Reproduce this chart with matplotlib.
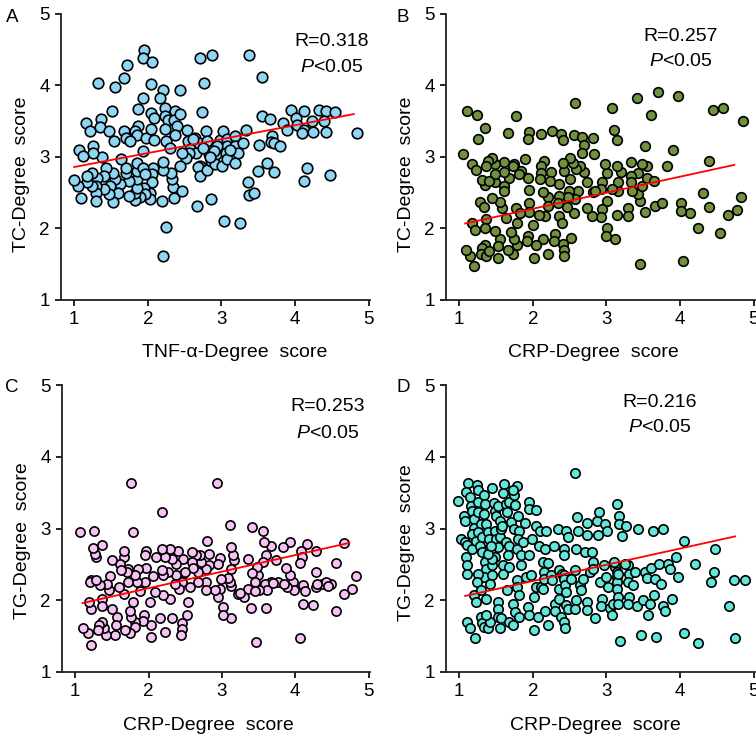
import matplotlib
matplotlib.use('Agg')
import matplotlib.pyplot as plt

plt.rcParams['font.family'] = ['Liberation Sans', 'DejaVu Sans']
plt.rcParams['mathtext.fontset'] = 'custom'
plt.rcParams['mathtext.rm'] = 'Liberation Sans'
plt.rcParams['mathtext.it'] = 'Liberation Sans:italic'

# ---- panel A: TNF-a vs TC ----
a_x = [1.95,1.93,2.06,1.72,1.68,1.32,1.55,2.04,2.20,2.44,
       2.17,1.94,2.71,2.87,2.77,3.38,3.55,1.86,1.51,1.36,
       1.16,1.22,1.35,1.47,1.67,1.71,1.54,1.86,1.83,1.85,
       1.76,1.97,2.04,2.08,2.04,2.09,2.23,2.23,2.27,2.23,
       2.25,2.30,2.37,2.35,2.40,2.44,2.37,2.53,2.55,2.73,
       2.79,2.64,2.69,2.58,2.66,2.56,2.52,2.44,2.80,2.83,
       2.93,2.98,3.02,3.07,3.07,2.94,3.06,3.19,3.19,3.29,
       3.33,3.23,2.71,2.68,2.71,2.80,2.86,2.91,3.01,3.07,
       3.18,3.36,3.37,3.45,3.50,3.62,3.71,3.51,3.55,3.66,
       3.69,3.67,3.72,3.79,3.84,3.89,3.94,4.02,4.03,4.12,
       4.12,4.09,4.23,4.25,4.32,4.42,4.40,4.42,4.55,4.84,
       4.16,4.12,4.47,2.86,2.67,3.04,3.25,2.19,2.25,2.21,
       2.35,2.34,2.46,2.33,2.31,2.20,2.20,2.07,2.06,2.06,
       2.03,2.03,1.95,1.96,1.90,1.83,1.83,1.85,1.85,1.85,
       1.85,1.93,1.96,1.93,1.74,1.74,1.71,1.63,1.70,1.62,
       1.60,1.56,1.53,1.53,1.49,1.47,1.43,1.41,1.41,1.38,
       1.31,1.30,1.30,1.29,1.26,1.25,1.24,1.24,1.18,1.18,
       1.09,1.06,1.12,1.05,0.99,2.62,2.75,2.90,3.12,2.85,
       2.47]
a_y = [4.49,4.38,4.33,4.29,4.11,4.03,3.98,4.02,3.94,3.94,
       3.82,3.83,4.39,4.43,4.04,4.42,4.12,3.67,3.64,3.53,
       3.47,3.37,3.42,3.37,3.36,3.27,3.22,3.43,3.36,3.31,
       3.22,3.27,3.39,3.24,3.62,3.54,3.68,3.57,3.52,3.39,
       3.23,3.13,3.64,3.52,3.43,3.60,3.31,3.38,3.22,3.63,
       3.37,3.27,3.19,3.11,3.06,3.06,2.98,2.88,3.22,3.04,
       3.04,3.24,3.36,3.25,3.15,3.15,3.06,3.30,3.15,3.20,
       3.38,3.05,2.88,2.86,2.73,2.82,2.94,2.90,2.88,2.97,
       2.91,2.65,2.47,2.49,2.81,2.91,2.79,3.17,3.57,3.53,
       3.30,3.21,3.20,3.15,3.47,3.38,3.66,3.54,3.45,3.65,
       3.38,3.34,3.51,3.35,3.66,3.65,3.50,3.35,3.63,3.33,
       2.84,2.67,2.75,2.41,2.32,2.11,2.08,2.38,2.02,1.62,
       2.42,2.58,2.52,2.69,2.77,2.82,2.93,2.85,2.76,2.65,
       2.50,2.41,2.56,2.48,2.44,2.40,2.50,2.57,2.69,2.81,
       2.92,2.85,2.76,3.08,2.67,2.46,2.78,2.97,2.85,2.62,
       2.50,2.69,2.78,2.37,2.60,2.48,2.85,2.74,2.55,3.00,
       2.71,2.60,2.49,2.39,3.15,3.05,2.78,2.59,2.65,2.74,
       2.42,3.10,3.01,2.60,2.68,3.25,3.12,3.08,3.10,3.00,
       3.05]
a_fit_x = [1.00, 4.80]
a_fit_y = [2.86, 3.60]

# ---- panel B: CRP vs TC ----
b_x = [1.05,1.11,1.24,1.26,1.35,1.77,1.66,1.95,1.94,2.11,
       2.26,2.38,2.41,2.57,2.56,2.67,2.70,2.67,2.82,2.83,
       3.08,3.10,3.14,3.41,3.70,3.98,3.60,3.52,3.91,3.83,
       3.55,4.40,4.45,4.58,4.86,4.83,4.77,4.65,4.55,4.39,
       4.31,4.24,4.13,4.02,4.02,4.04,3.46,3.66,3.76,3.52,
       3.46,3.43,3.48,3.55,3.65,3.43,3.48,3.34,3.33,3.34,
       3.35,3.30,3.29,3.16,3.16,3.20,3.14,3.15,3.12,3.01,
       3.00,3.01,3.07,3.01,2.98,2.94,2.93,2.94,2.93,2.80,
       2.74,2.82,2.84,2.73,2.70,2.64,2.59,2.54,2.51,2.62,
       2.57,2.56,2.52,2.51,2.49,2.48,2.46,2.42,2.41,2.36,
       2.36,2.34,2.36,2.39,2.41,2.43,2.43,2.30,2.29,2.25,
       2.23,2.20,2.21,2.16,2.14,2.15,2.11,2.11,2.10,2.08,
       2.14,2.21,2.05,2.02,2.00,1.95,1.95,1.93,1.95,1.94,
       1.92,1.89,1.84,1.81,1.75,1.73,1.77,1.82,1.79,1.79,
       1.75,1.70,1.73,1.66,1.67,1.63,1.61,1.61,1.61,1.61,
       1.58,1.55,1.52,1.55,1.52,1.48,1.49,1.49,1.49,1.45,
       1.44,1.39,1.37,1.35,1.31,1.28,1.33,1.37,1.35,1.35,
       1.31,1.29,1.37,1.40,1.20,1.15,1.09,1.17,1.21,1.18,
       1.23,1.41]
b_y = [3.04,3.64,3.59,3.25,3.41,3.58,3.34,3.35,3.25,3.32,
       3.37,3.32,3.24,3.76,3.31,3.28,3.17,3.05,3.27,3.04,
       3.69,3.38,3.24,3.83,3.91,3.86,3.59,3.15,3.10,2.88,
       2.88,2.94,3.66,3.68,3.51,2.44,2.26,2.19,1.94,2.30,
       2.49,2.01,2.21,2.35,2.24,1.55,1.51,2.32,2.35,2.23,
       2.38,2.48,2.60,2.71,2.67,2.78,2.90,2.74,2.93,2.65,
       2.53,2.29,2.18,2.52,2.65,2.79,2.88,2.19,1.85,2.00,
       1.90,2.39,2.55,2.78,2.90,2.65,2.55,2.27,2.16,2.18,
       2.29,2.51,2.53,2.65,2.79,2.88,2.83,2.92,2.98,2.52,
       2.41,2.21,1.87,2.69,2.53,2.44,2.30,2.81,2.92,2.62,
       2.46,2.35,2.18,2.08,1.78,1.70,1.61,1.93,1.82,2.79,
       2.67,2.44,2.32,2.18,2.51,2.95,2.88,2.78,2.69,2.19,
       1.85,1.65,1.77,1.59,2.05,2.35,2.54,2.70,2.23,1.90,
       1.82,2.97,2.81,2.76,2.90,2.88,2.28,2.21,2.08,1.77,
       1.85,1.95,1.65,1.70,2.71,2.14,2.93,2.79,2.60,2.52,
       2.29,2.37,1.59,1.86,1.75,1.96,2.65,2.76,2.90,2.99,
       2.42,2.94,2.88,2.61,2.68,2.37,2.30,2.13,2.01,1.77,
       1.73,1.65,1.61,1.69,1.47,1.62,1.70,2.07,1.98,2.90,
       2.82,2.67]
b_fit_x = [1.08, 4.74]
b_fit_y = [2.07, 2.89]

# ---- panel C: CRP vs TG ----
c_x = [1.07,1.26,1.76,1.79,2.18,2.93,3.11,3.41,3.56,4.66,
       4.83,4.78,4.56,4.56,4.67,4.37,4.49,4.42,4.28,4.28,
       4.24,4.28,4.16,4.08,4.09,4.07,4.10,4.13,4.10,4.06,
       3.97,3.93,3.99,3.89,3.88,3.93,3.83,3.77,3.74,3.67,
       3.67,3.60,3.58,3.56,3.59,3.62,3.60,3.47,3.51,3.49,
       3.48,3.45,3.41,3.36,3.40,3.36,3.30,3.22,3.17,3.15,
       3.13,3.12,3.13,3.11,3.08,3.13,3.02,3.02,2.99,2.97,
       2.95,2.97,2.95,2.90,2.80,2.83,2.83,2.79,2.79,2.79,
       2.72,2.70,2.65,2.68,2.68,2.59,2.59,2.56,2.54,2.53,
       2.47,2.47,2.45,2.42,2.40,2.38,2.37,2.36,2.45,2.45,
       2.44,2.32,2.29,2.27,2.29,2.32,2.22,2.20,2.22,2.18,
       2.18,2.15,2.20,2.10,2.09,2.06,2.03,2.04,2.02,1.97,
       1.95,1.97,1.95,1.94,1.93,1.88,1.86,1.84,1.82,1.81,
       1.81,1.79,1.76,1.75,1.75,1.72,1.72,1.68,1.67,1.67,
       1.70,1.61,1.62,1.66,1.60,1.57,1.55,1.54,1.50,1.48,
       1.50,1.46,1.44,1.42,1.39,1.36,1.37,1.37,1.36,1.34,
       1.32,1.29,1.31,1.27,1.24,1.22,1.21,1.20,1.19,1.17,
       1.22,1.11,1.29,4.30,4.45,3.70,3.85,3.25,3.45,2.60,
       2.50]
c_y = [2.95,2.96,3.63,2.95,3.23,3.63,3.05,3.02,2.97,2.80,
       2.34,2.16,2.52,1.85,2.09,2.23,2.22,2.25,2.39,2.19,
       1.93,2.69,2.79,2.69,2.60,2.52,2.21,2.13,1.95,1.47,
       2.25,2.35,2.14,2.19,2.45,2.81,2.74,2.25,2.56,2.25,
       2.76,2.63,2.81,2.53,2.23,2.14,1.89,1.42,2.14,2.35,
       2.46,2.26,2.38,2.57,1.89,2.16,2.05,2.09,2.56,2.63,
       2.44,2.74,2.20,2.26,2.31,1.75,1.91,1.79,2.30,2.59,
       2.51,2.16,2.05,2.14,2.83,2.65,2.49,2.44,2.25,2.14,
       2.53,2.63,2.63,2.39,2.25,2.67,2.54,2.19,1.98,1.79,
       2.58,2.37,2.25,2.16,2.68,2.51,2.35,2.23,1.68,1.60,
       1.51,2.58,2.72,2.39,2.02,1.75,2.60,2.35,1.56,2.72,
       2.42,1.75,2.07,2.60,2.11,2.34,1.49,1.65,1.98,2.69,
       2.63,2.45,2.25,1.79,1.71,2.13,2.44,2.25,2.35,1.70,
       1.63,1.98,1.77,1.85,1.55,2.44,2.25,1.58,2.60,2.69,
       2.39,2.51,2.42,2.09,2.19,1.77,1.65,1.51,2.56,2.34,
       1.88,2.14,2.23,1.51,1.61,2.02,1.92,1.70,2.77,2.21,
       1.65,2.60,1.58,2.65,2.73,1.88,2.28,2.26,1.98,1.54,
       1.38,1.62,2.28,2.22,2.20,2.24,2.22,2.10,2.13,2.45,
       2.40]
c_fit_x = [1.10, 4.74]
c_fit_y = [1.96, 2.80]

# ---- panel D: CRP vs TG ----
d_x = [0.98,1.06,1.08,1.03,1.08,1.10,1.09,1.10,1.10,1.12,
       1.09,1.14,1.16,1.18,1.20,1.20,1.17,1.18,1.23,1.24,
       1.25,1.25,1.26,1.30,1.25,1.31,1.28,1.31,1.34,1.35,
       1.34,1.36,1.39,1.41,1.35,1.36,1.33,1.25,1.24,1.20,
       1.23,1.30,1.36,1.10,1.15,1.21,1.30,1.31,1.34,1.39,
       1.42,1.36,1.45,1.47,1.48,1.50,1.52,1.48,1.50,1.52,
       1.48,1.45,1.45,1.42,1.45,1.39,1.43,1.52,1.52,1.52,
       1.55,1.57,1.55,1.57,1.56,1.58,1.59,1.59,1.61,1.60,
       1.64,1.65,1.68,1.64,1.67,1.66,1.68,1.65,1.67,1.73,
       1.73,1.70,1.74,1.75,1.76,1.79,1.73,1.80,1.81,1.80,
       1.78,1.79,1.78,1.81,1.76,1.81,1.84,1.84,1.86,1.89,
       1.91,1.95,1.95,2.05,1.95,1.97,1.93,1.95,2.02,2.07,
       2.02,2.05,2.11,2.05,1.99,2.09,2.10,2.16,2.14,2.18,
       2.15,2.15,2.14,2.16,2.21,2.21,2.25,2.26,2.29,2.30,
       2.30,2.34,2.36,2.36,2.36,2.38,2.39,2.42,2.43,2.45,
       2.48,2.42,2.43,2.44,2.45,2.45,2.43,2.44,2.48,2.52,
       2.57,2.57,2.59,2.60,2.61,2.59,2.57,2.64,2.66,2.68,
       2.71,2.74,2.73,2.74,2.73,2.78,2.82,2.82,2.80,2.85,
       2.87,2.90,2.89,2.91,2.94,2.93,2.98,3.01,2.97,3.00,
       3.02,3.05,3.07,3.09,3.12,3.14,3.14,3.15,3.15,3.16,
       3.16,3.14,3.17,3.17,3.21,3.18,3.11,3.27,3.30,3.31,
       3.29,3.31,3.30,3.36,3.39,3.41,3.43,3.47,3.50,3.52,
       3.55,3.57,3.60,3.59,3.64,3.66,3.65,3.68,3.71,3.74,
       3.77,3.77,3.80,3.84,3.86,3.89,3.95,3.98,4.05,4.05,
       4.20,4.24,4.42,4.47,4.46,4.66,4.73,4.75,4.88,3.16,
       3.25]
d_y = [3.38,3.18,3.11,2.85,2.81,2.77,2.60,2.49,2.37,3.64,
       3.51,3.44,3.31,3.25,3.13,3.01,2.93,2.72,2.83,3.60,
       3.54,3.37,3.23,3.06,2.95,2.88,2.76,2.67,3.47,3.34,
       3.20,3.06,2.95,2.85,2.53,2.44,2.32,2.37,2.26,2.07,
       1.98,2.14,2.02,1.70,1.62,1.48,1.77,1.68,1.63,1.62,
       1.70,1.79,3.57,3.36,3.25,3.18,3.32,2.96,2.86,2.74,
       2.60,2.49,2.35,2.22,2.58,2.65,2.76,1.98,1.88,1.77,
       1.61,1.75,2.88,3.00,3.11,3.04,2.49,2.37,3.62,3.50,
       3.34,3.23,3.37,2.81,2.76,2.63,2.46,2.14,1.70,1.65,
       1.95,3.09,3.00,3.47,3.33,3.59,3.53,3.18,2.97,2.86,
       2.72,2.28,2.19,2.07,1.84,1.77,2.49,2.63,2.81,3.08,
       2.32,3.37,3.27,3.26,2.63,2.35,1.91,1.79,1.58,1.77,
       2.05,2.19,2.19,3.04,2.86,2.76,2.97,2.72,2.53,2.97,
       2.39,2.30,2.16,1.85,1.65,2.52,2.35,2.28,2.76,1.95,
       1.85,3.00,2.42,2.16,2.02,1.77,2.37,2.72,2.63,2.97,
       2.88,2.35,2.30,2.21,2.12,1.94,1.69,1.61,1.88,2.29,
       2.42,3.78,2.72,3.16,2.96,2.00,1.88,2.21,2.14,2.30,
       2.67,1.98,1.86,2.91,3.08,2.39,2.53,2.44,2.67,1.75,
       3.11,3.23,2.91,2.26,2.02,1.92,3.06,2.97,2.49,2.32,
       2.19,1.89,1.79,1.95,2.46,2.39,2.32,2.25,2.16,2.05,
       1.95,3.34,3.18,3.06,2.90,1.43,2.53,3.03,2.49,2.37,
       2.25,2.05,1.95,2.21,2.39,1.92,3.00,1.51,2.00,2.39,
       2.31,1.79,2.45,1.95,2.96,2.30,2.07,1.49,2.51,2.22,
       3.00,1.92,1.85,2.50,2.44,2.02,2.60,2.32,2.83,1.55,
       2.50,1.41,2.26,2.71,2.40,1.92,2.28,1.48,2.28,2.37,
       2.50]
d_fit_x = [1.08, 4.75]
d_fit_y = [2.06, 2.89]

W, H = 756, 736
fig = plt.figure(figsize=(W / 100, H / 100), dpi=100)

def make_ax(left, top, right, bottom):
    return fig.add_axes([left / W, 1 - bottom / H, (right - left) / W, (bottom - top) / H])

panels = [
    dict(box=(61, 14, 370, 300), x=a_x, y=a_y, fx=a_fit_x, fy=a_fit_y, col='#8fd6f4', s=58,
         xl='TNF-α-Degree  score', yl='TC-Degree  score', xlpos=0.563, ylpos=0.44,
         r='R=0.318', rpos=(4.50, 4.61, 4.25), letter='A', lpos=(12, 18)),
    dict(box=(446, 14, 755, 300), x=b_x, y=b_y, fx=b_fit_x, fy=b_fit_y, col='#72913f', s=48,
         xl='CRP-Degree  score', yl='TC-Degree  score', xlpos=0.476, ylpos=0.44,
         r='R=0.257', rpos=(4.01, 4.69, 4.33), letter='B', lpos=(403, 18)),
    dict(box=(62, 385, 370, 672), x=c_x, y=c_y, fx=c_fit_x, fy=c_fit_y, col='#f6c4f4', s=44,
         xl='CRP-Degree  score', yl='TG-Degree  score', xlpos=0.474, ylpos=0.457,
         r='R=0.253', rpos=(4.44, 4.70, 4.33), letter='C', lpos=(12, 388)),
    dict(box=(446, 385, 755, 672), x=d_x, y=d_y, fx=d_fit_x, fy=d_fit_y, col='#62e6da', s=46,
         xl='CRP-Degree  score', yl='TG-Degree  score', xlpos=0.482, ylpos=0.45,
         r='R=0.216', rpos=(3.73, 4.76, 4.41), letter='D', lpos=(403, 388)),
]

for p in panels:
    ax = make_ax(*p['box'])
    ax.scatter(p['x'], p['y'], s=p['s'], c=p['col'], edgecolors='black', linewidths=1.2, zorder=2)
    ax.plot(p['fx'], p['fy'], color='red', lw=1.3, zorder=3)

    ax.set_xlim(0.82, 5.02)
    ax.set_ylim(1, 5)
    ax.set_xticks([1, 2, 3, 4, 5])
    ax.set_yticks([1, 2, 3, 4, 5])
    ax.tick_params(direction='out', length=4, width=1.2, labelsize=13.5, pad=4)
    for side in ['top', 'right']:
        ax.spines[side].set_visible(False)
    for side in ['left', 'bottom']:
        ax.spines[side].set_linewidth(1.3)
        ax.spines[side].set_color('#222222')

    ax.set_xlabel(p['xl'], fontsize=14)
    ax.set_ylabel(p['yl'], fontsize=14)
    ax.xaxis.set_label_coords(p['xlpos'], -0.185)
    ax.yaxis.set_label_coords(-0.127, p['ylpos'])
    ax.xaxis.label.set_verticalalignment('center')
    ax.yaxis.label.set_verticalalignment('center')

    rx, ry, py = p['rpos']
    ax.text(rx, ry, p['r'], ha='center', va='center', fontsize=14)
    ax.text(rx, py, '$P$<0.05', ha='center', va='center', fontsize=14)

    fig.text(p['lpos'][0] / W, 1 - p['lpos'][1] / H, p['letter'], ha='center', va='center', fontsize=13.5)

fig.savefig('out.png', dpi=100)
